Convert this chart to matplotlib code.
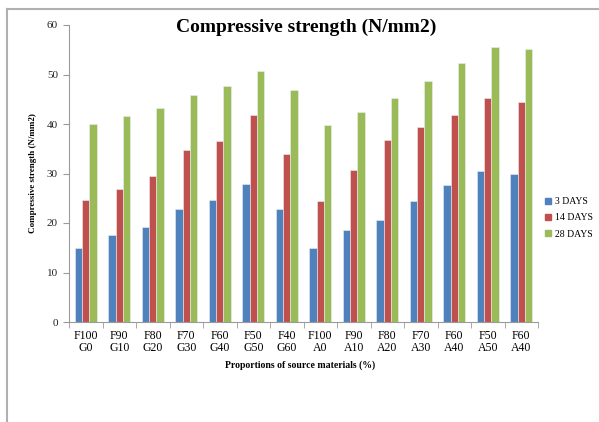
import matplotlib
matplotlib.use("Agg")
import matplotlib.pyplot as plt
from matplotlib.lines import Line2D
from matplotlib.patches import Rectangle
import numpy as np

plt.rcParams['font.family'] = ['Liberation Serif', 'DejaVu Serif']

categories = ["F100\nG0", "F90\nG10", "F80\nG20", "F70\nG30", "F60\nG40", "F50\nG50", "F40\nG60",
              "F100\nA0", "F90\nA10", "F80\nA20", "F70\nA30", "F60\nA40", "F50\nA50", "F60\nA40"]
days3 = [14.9, 17.5, 19.2, 22.8, 24.7, 27.8, 22.9, 14.9, 18.5, 20.7, 24.4, 27.6, 30.6, 29.8]
days14 = [24.7, 26.8, 29.5, 34.8, 36.5, 41.9, 34.0, 24.5, 30.8, 36.8, 39.4, 41.9, 45.2, 44.4]
days28 = [39.9, 41.6, 43.3, 45.8, 47.6, 50.7, 46.8, 39.8, 42.4, 45.2, 48.7, 52.4, 55.6, 55.2]
series_labels = ["3 DAYS", "14 DAYS", "28 DAYS"]
colors = ["#4F81BD", "#C0504D", "#9BBB59"]

fig = plt.figure(figsize=(5.99, 4.22), dpi=100)
ax = fig.add_axes([69/599, 1 - 322/422, (538 - 69)/599, (322 - 25)/422])

x = np.arange(len(categories))
w = 0.222
for i, (vals, lab, c) in enumerate(zip([days3, days14, days28], series_labels, colors)):
    ax.bar(x + (i - 1) * w, vals, width=w, color=c, edgecolor="#e8eef5", linewidth=0.4, label=lab)

ax.set_xlim(-0.5, len(categories) - 0.5)
ax.set_ylim(0, 60)
ax.set_yticks(range(0, 61, 10))
ax.set_xticks(x)
ax.set_xticklabels(categories, fontsize=8.5, linespacing=1.0)
ax.tick_params(axis='x', length=0, pad=6)
ax.set_xticks(np.arange(-0.5, len(categories), 1), minor=True)
ax.tick_params(axis='x', which='minor', length=4, color="#9a9a9a", direction='out')
ax.tick_params(axis='y', length=4, color="#9a9a9a", labelsize=8, pad=4, labelcolor="#222222")
for s in ['top', 'right']:
    ax.spines[s].set_visible(False)
for s in ['left', 'bottom']:
    ax.spines[s].set_color("#9a9a9a")
    ax.spines[s].set_linewidth(0.8)

fig.text(306/599, 1 - 27.5/422, "Compressive strength (N/mm2)", ha='center', va='center',
         fontsize=14, fontweight='bold')
fig.text(33/599, 1 - 173/422, "Compressive strength (N/mm2)", ha='center', va='center',
         rotation=90, fontsize=6.5, fontweight='bold')
fig.text(300/599, 1 - 365/422, "Proportions of source materials (%)", ha='center', va='center',
         fontsize=7, fontweight='bold')

handles = [Rectangle((0, 0), 1, 1, color=c) for c in colors]
fig.legend(handles, series_labels, loc='center left', bbox_to_anchor=(538/599, 1 - 218/422),
           frameon=False, fontsize=7, handlelength=0.6, handleheight=0.6, handletextpad=0.4,
           labelspacing=0.75, borderpad=0.2)

# outer frame
fig.add_artist(Line2D([7/599, 7/599], [0, 1 - 9/422], color="#b0b0b0", linewidth=1.5,
                      transform=fig.transFigure))
fig.add_artist(Line2D([7/599, 1], [1 - 9/422, 1 - 9/422], color="#b0b0b0", linewidth=1.5,
                      transform=fig.transFigure))

fig.savefig("out.png", dpi=100)
